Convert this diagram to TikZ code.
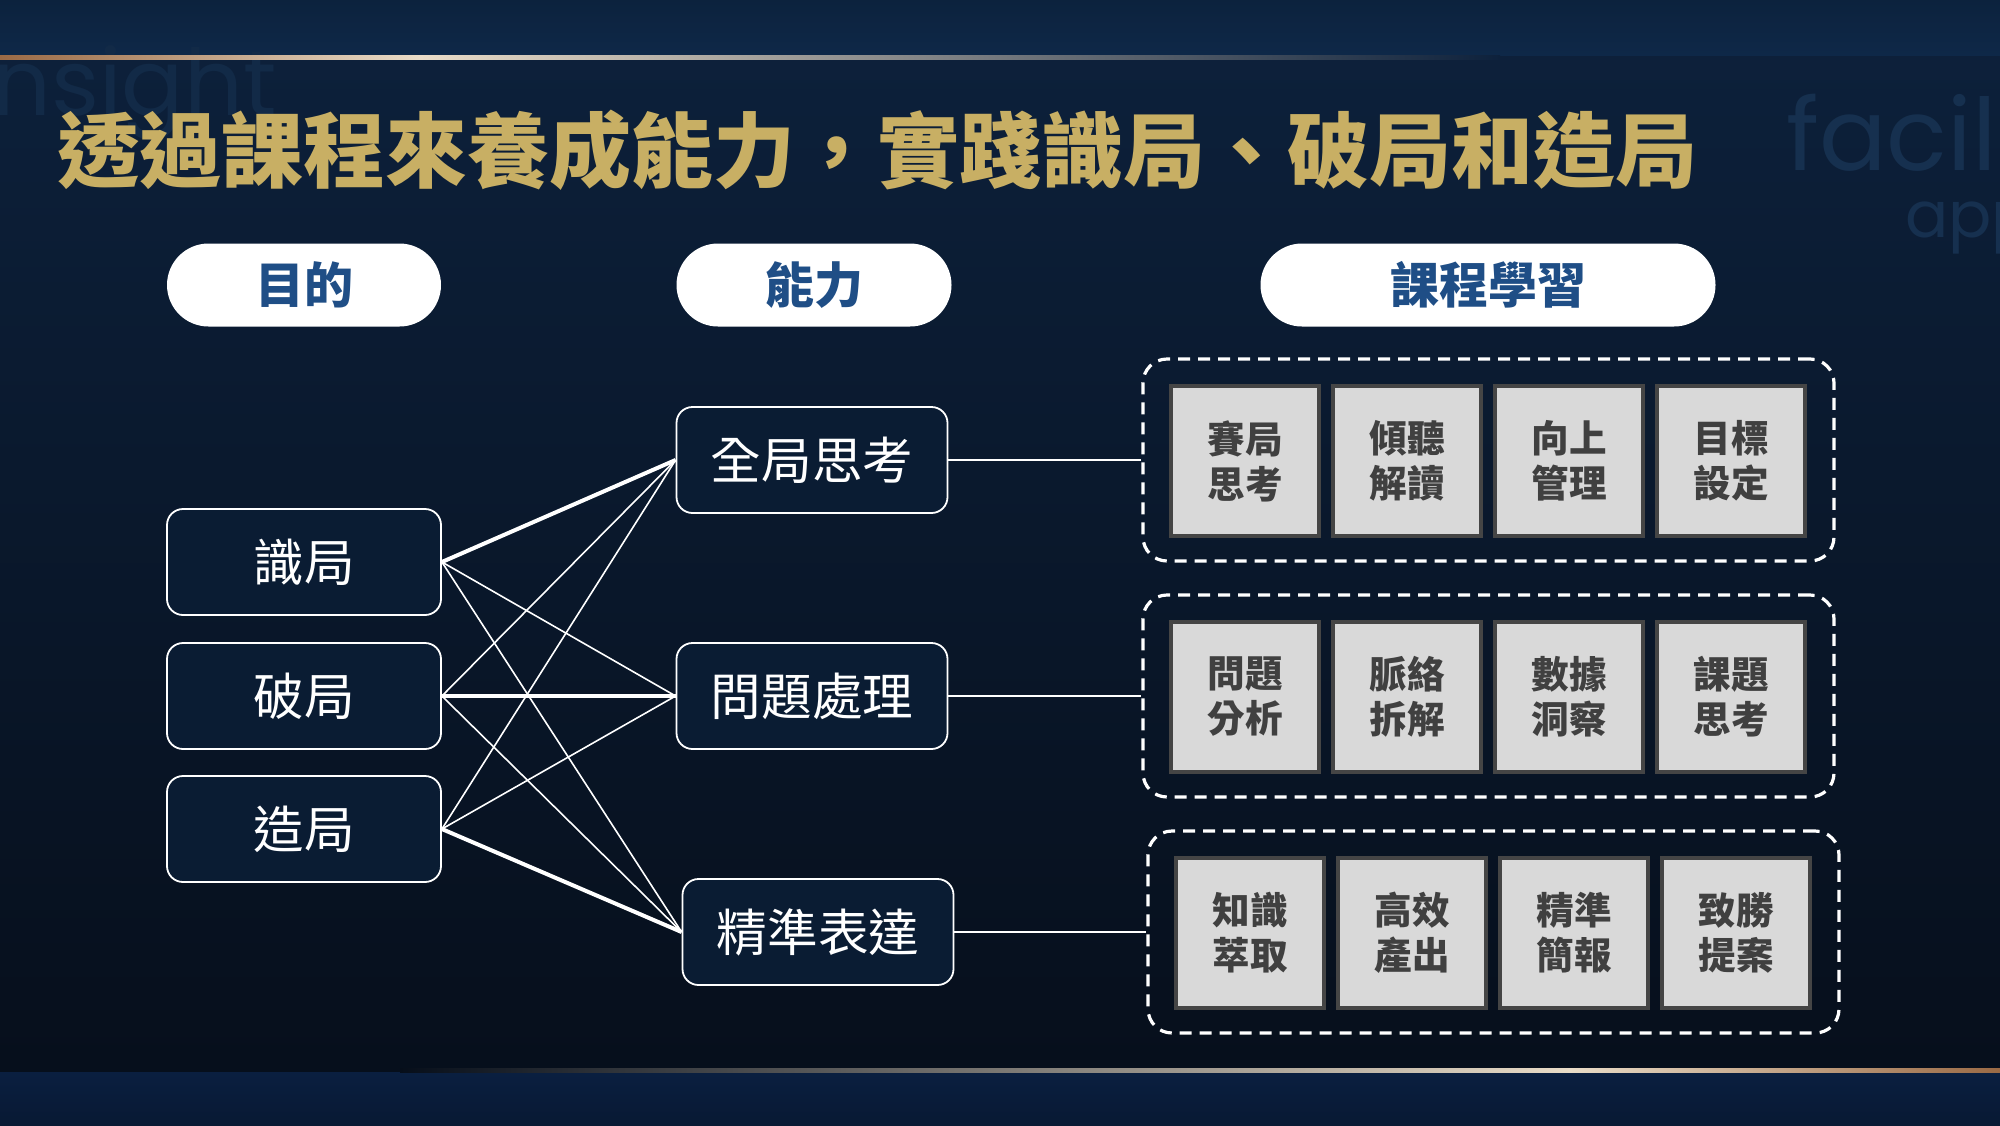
\documentclass[tikz,border=0pt]{standalone}
\usepackage{fontspec}
\usetikzlibrary{shapes.misc}
\newfontfamily\cjk{Noto Sans CJK TC}
\newfontfamily\cjkbold{Noto Sans CJK TC Bold}
\newfontfamily\cjkblack{Noto Sans CJK TC Black}
\newfontfamily\wmfont{Poppins}
\definecolor{bgA}{HTML}{0D213C}
\definecolor{bgB}{HTML}{060E1A}
\definecolor{bandtop}{HTML}{0E2848}
\definecolor{bandbot}{HTML}{0A1F40}
\definecolor{gold}{HTML}{C8AF64}
\definecolor{navy}{HTML}{1F4E86}
\definecolor{boxfill}{HTML}{0A1C33}
\definecolor{graybox}{HTML}{D9D9D9}
\definecolor{grayedge}{HTML}{454545}
\definecolor{graytext}{HTML}{404040}
\definecolor{wm}{HTML}{16304F}
\definecolor{wmfaint}{HTML}{122A47}
\definecolor{linegold}{HTML}{E9DCC8}
\definecolor{copper}{HTML}{9A6A45}
\tikzset{
  pill/.style={rounded rectangle, fill=white, draw=none, text=navy,
    font=\cjkblack\fontsize{24.5}{28}\selectfont, minimum height=41.5pt, inner sep=0pt},
  outlinebox/.style={draw=white, line width=0.9pt, rounded corners=8pt, fill=boxfill,
    text=white, font=\cjk\fontsize{25.3}{29}\selectfont, minimum height=53pt, inner sep=0pt},
  course/.style={draw=grayedge, line width=1.6pt, fill=graybox, text=graytext,
    font=\cjkblack\fontsize{18.8}{22.5}\selectfont, align=center,
    minimum width=74pt, minimum height=75pt, inner sep=0pt},
  groupbox/.style={draw=white, line width=1.6pt, dash pattern=on 6pt off 4pt,
    rounded corners=12pt, minimum width=345.5pt, minimum height=101pt, inner sep=0pt},
  thinlink/.style={draw=white, line width=0.8pt},
  thicklink/.style={draw=white, line width=2pt},
  hlink/.style={draw=white, line width=0.8pt}
}
\begin{document}
\begin{tikzpicture}[x=0.5pt,y=-0.5pt]
\useasboundingbox (0,0) rectangle (2000,1125);
% background
\shade[top color=bgA, bottom color=bgB] (0,0) rectangle (2000,1125);
\shade[top color=bandtop!85!black, bottom color=bandtop] (0,0) rectangle (2000,55);
\shade[top color=bandbot, bottom color=bandbot!80!black] (0,1072) rectangle (2000,1125);
% watermarks
\begin{scope}
\clip (0,0) rectangle (2000,1125);
\node[anchor=base west, inner sep=0pt, text=wm, font=\wmfont\fontsize{50}{54}\selectfont] (wm1) at (1786,170) {facili};
\node[anchor=base west, inner sep=0pt, text=wm, font=\wmfont\fontsize{32}{36}\selectfont] (wm2) at (1905,237) {app};
\node[anchor=base west, inner sep=0pt, text=wmfaint, font=\wmfont\fontsize{46}{50}\selectfont] (wm3) at (-8,115) {nsight};
\end{scope}
% gold rules
\shade[left color=copper, right color=linegold] (0,55) rectangle (420,59);
\shade[left color=linegold, right color=bgA] (420,55) rectangle (1500,59);
\shade[left color=bgB, right color=linegold] (400,1068) rectangle (1570,1072);
\shade[left color=linegold, right color=copper] (1570,1068) rectangle (2000,1072);
% title
\node[anchor=west, inner sep=0pt, text=gold, font=\cjkblack\fontsize{41}{45}\selectfont] (title) at (57,150) {透過課程來養成能力，實踐識局、破局和造局};
% header pills
\node[pill, minimum width=137pt] (h1) at (304,285) {目的};
\node[pill, minimum width=137.5pt] (h2) at (814,285) {能力};
\node[pill, minimum width=227.5pt] (h3) at (1488,285) {課程學習};
% left boxes
\node[outlinebox, minimum width=137pt] (l1) at (304,562) {識局};
\node[outlinebox, minimum width=137pt] (l2) at (304,696) {破局};
\node[outlinebox, minimum width=137pt] (l3) at (304,829) {造局};
% middle boxes
\node[outlinebox, minimum width=135.5pt] (m1) at (812,460) {全局思考};
\node[outlinebox, minimum width=135.5pt] (m2) at (812,696) {問題處理};
\node[outlinebox, minimum width=135.5pt] (m3) at (818,932) {精準表達};
% cross links
\draw[thicklink] (l1.east) -- (m1.west);
\draw[thinlink] (l1.east) -- (m2.west);
\draw[thinlink] (l1.east) -- (m3.west);
\draw[thinlink] (l2.east) -- (m1.west);
\draw[thicklink] (l2.east) -- (m2.west);
\draw[thinlink] (l2.east) -- (m3.west);
\draw[thinlink] (l3.east) -- (m1.west);
\draw[thinlink] (l3.east) -- (m2.west);
\draw[thicklink] (l3.east) -- (m3.west);
% groups
\node[groupbox] (g1) at (1488.5,460) {};
\node[groupbox] (g2) at (1488.5,696) {};
\node[groupbox] (g3) at (1493.5,932) {};
\draw[hlink] (m1.east) -- (g1.west);
\draw[hlink] (m2.east) -- (g2.west);
\draw[hlink] (m3.east) -- (g3.west);
% course boxes
\node[course] (c11) at (1245,461) {賽局\\思考};
\node[course] (c12) at (1407,461) {傾聽\\解讀};
\node[course] (c13) at (1569,461) {向上\\管理};
\node[course] (c14) at (1731,461) {目標\\設定};
\node[course] (c21) at (1245,697) {問題\\分析};
\node[course] (c22) at (1407,697) {脈絡\\拆解};
\node[course] (c23) at (1569,697) {數據\\洞察};
\node[course] (c24) at (1731,697) {課題\\思考};
\node[course] (c31) at (1250,933) {知識\\萃取};
\node[course] (c32) at (1412,933) {高效\\產出};
\node[course] (c33) at (1574,933) {精準\\簡報};
\node[course] (c34) at (1736,933) {致勝\\提案};
\end{tikzpicture}
\end{document}
